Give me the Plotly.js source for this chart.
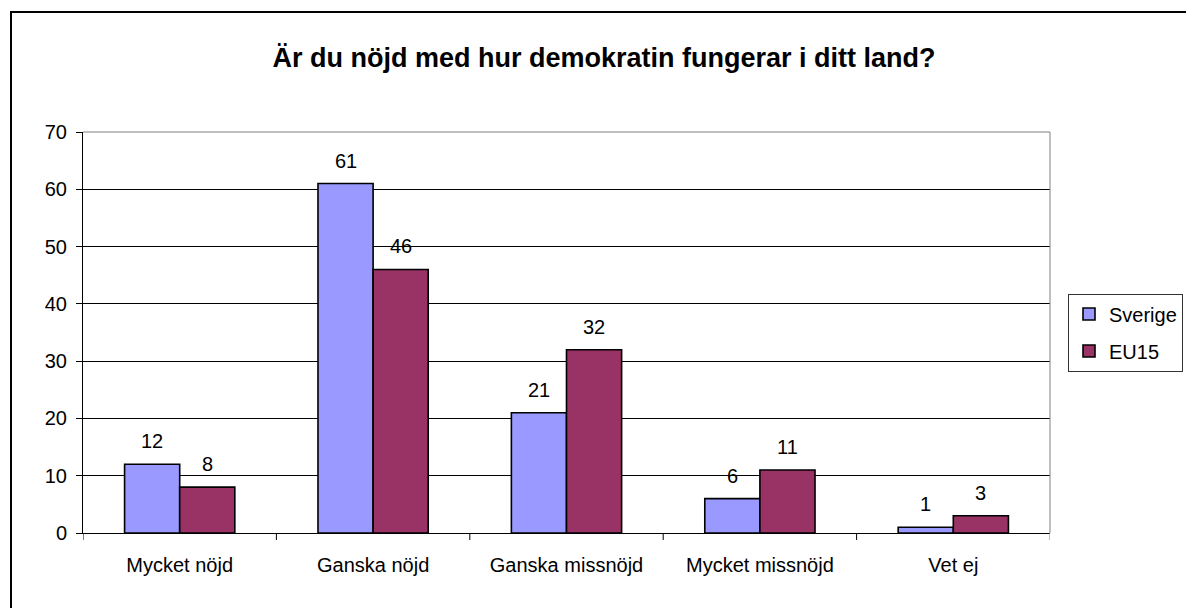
<!DOCTYPE html>
<html>
<head>
<meta charset="utf-8">
<script src="https://cdn.plot.ly/plotly-3.0.1.min.js"></script>
<style>
  html, body { margin: 0; padding: 0; background: #fff; overflow: hidden; }
  #chart { width: 1186px; height: 608px; }
</style>
</head>
<body>
<div id="chart"></div>
<script>
// ---- data ----
const categories = ["Mycket nöjd", "Ganska nöjd", "Ganska missnöjd", "Mycket missnöjd", "Vet ej"];
const seriesNames = ["Sverige", "EU15"];
const sverige = [12, 61, 21, 6, 1];
const eu15 = [8, 46, 32, 11, 3];
const yTicks = [0, 10, 20, 30, 40, 50, 60, 70];
const titleText = "Är du nöjd med hur demokratin fungerar i ditt land?";

// ---- layout constants ----
const W = 1186, H = 608;
const plotL = 83, plotR = 1050, plotT = 132, plotB = 533;
const plotW = plotR - plotL, plotH = plotB - plotT;
const bargap = 0.43;
const barW = (1 - bargap) / 2;
const FONT = "Liberation Sans, Arial, sans-serif";
const FS = 20;
const colors = ["#9999FF", "#993366"];

const idx = categories.map((c, i) => i);

const traces = [sverige, eu15].map((vals, s) => ({
  type: "bar",
  name: seriesNames[s],
  x: idx,
  y: vals,
  legendgroup: "g" + s,
  marker: { color: colors[s], line: { color: "#000", width: 1.6 } },
  hoverinfo: "skip"
}));

const annotations = [];
[sverige, eu15].forEach((vals, s) => {
  const off = (s === 0 ? -1 : 1) * barW / 2;
  vals.forEach((v, i) => {
    annotations.push({
      x: i + off, y: v, xref: "x", yref: "y",
      text: String(v), showarrow: false,
      yanchor: "middle", xanchor: "center", yshift: 23,
      font: { family: FONT, size: FS, color: "#000" }
    });
  });
});

const px2x = p => (p - plotL) / plotW;
const px2y = p => (plotB - p) / plotH;

const layout = {
  width: W, height: H,
  margin: { l: plotL, r: W - plotR, t: plotT, b: H - plotB, pad: 0, autoexpand: false },
  paper_bgcolor: "#fff", plot_bgcolor: "#fff",
  font: { family: FONT, size: FS, color: "#000" },
  title: {
    text: "<b>" + titleText + "</b>",
    font: { family: FONT, size: 27, color: "#000" },
    xref: "container", yref: "container",
    x: 604 / W, xanchor: "center",
    y: 1 - 58 / H, yanchor: "middle"
  },
  barmode: "group",
  bargap: bargap,
  bargroupgap: 0,
  xaxis: {
    type: "linear",
    range: [-0.5, categories.length - 0.5],
    tickmode: "array",
    tickvals: idx,
    ticktext: categories,
    ticks: "",
    showgrid: false,
    zeroline: false,
    showline: true, linecolor: "#000", linewidth: 1,
    tickfont: { family: FONT, size: FS, color: "#000" },
    ticklabelstandoff: 14,
    automargin: false,
    fixedrange: true
  },
  yaxis: {
    range: [0, 70],
    tickmode: "array",
    tickvals: yTicks,
    ticks: "outside", ticklen: 6, tickcolor: "#000", tickwidth: 1,
    showgrid: true, gridcolor: "#000", gridwidth: 1,
    zeroline: false,
    showline: true, linecolor: "#000", linewidth: 1,
    tickfont: { family: FONT, size: FS, color: "#000" },
    ticklabelstandoff: 5,
    automargin: false,
    fixedrange: true
  },
  showlegend: true,
  legend: {
    x: px2x(1068), xanchor: "left",
    y: 0.5, yanchor: "middle",
    bordercolor: "#333", borderwidth: 1,
    bgcolor: "#fff",
    font: { family: FONT, size: FS, color: "#000" },
    traceorder: "grouped",
    tracegroupgap: 8,
    itemwidth: 30
  },
  annotations: annotations,
  shapes: [
    // plot area border top and right (grey)
    { type: "line", xref: "paper", yref: "paper", x0: 0, x1: 1, y0: 1, y1: 1,
      line: { color: "#808080", width: 1 }, layer: "above" },
    { type: "line", xref: "paper", yref: "paper", x0: 1, x1: 1, y0: 0, y1: 1,
      line: { color: "#808080", width: 1 }, layer: "above" },
    // category boundary ticks on x axis
    ...Array.from({ length: categories.length + 1 }, (_, k) => ({
      type: "line", xref: "x", yref: "paper",
      x0: k - 0.5, x1: k - 0.5, y0: 0, y1: px2y(plotB + 7),
      line: { color: k === categories.length ? "#808080" : "#000", width: 1 }, layer: "above"
    })),
    // outer chart border
    { type: "rect", xref: "paper", yref: "paper",
      x0: px2x(11), x1: px2x(W + 40), y0: px2y(H + 40), y1: px2y(12),
      line: { color: "#000", width: 2 }, fillcolor: "rgba(0,0,0,0)", layer: "above" }
  ]
};

Plotly.newPlot("chart", traces, layout, { displayModeBar: false, staticPlot: true });
</script>
</body>
</html>
